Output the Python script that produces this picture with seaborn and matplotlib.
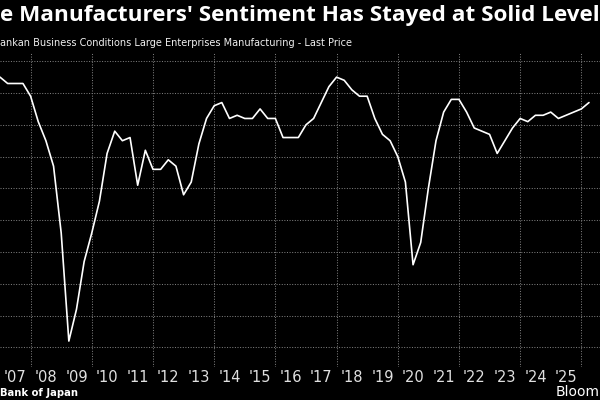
import matplotlib
matplotlib.use("Agg")
import matplotlib.pyplot as plt
import numpy as np
import pandas as pd
import seaborn as sns

# ---- data (Tankan large manufacturers DI, quarterly) ----
start_quarter = "2006Q4"
values = [25,
          23, 23, 23, 19,
          11, 5, -3, -24,
          -58, -48, -33, -24,
          -14, 1, 8, 5,
          6, -9, 2, -4,
          -4, -1, -3, -12,
          -8, 4, 12, 16,
          17, 12, 13, 12,
          12, 15, 12, 12,
          6, 6, 6, 10,
          12, 17, 22, 25,
          24, 21, 19, 19,
          12, 7, 5, 0,
          -8, -34, -27, -10,
          5, 14, 18, 18,
          14, 9, 8, 7,
          1, 5, 9, 12,
          11, 13, 13, 14,
          12, 13, 14, 15,
          17]
year_labels = ["'07", "'08", "'09", "'10", "'11", "'12", "'13", "'14", "'15", "'16",
               "'17", "'18", "'19", "'20", "'21", "'22", "'23", "'24", "'25"]
label_years = list(range(2007, 2026))
y_grid = list(range(-60, 31, 10))

title = "e Manufacturers' Sentiment Has Stayed at Solid Level"
subtitle = "ankan Business Conditions Large Enterprises Manufacturing - Last Price"
source = "Bank of Japan"
brand = "Bloom"

periods = pd.period_range(start_quarter, periods=len(values), freq="Q")
xpos = periods.year + periods.quarter * 0.25  # quarter-end as decimal year
df = pd.DataFrame({"x": xpos, "value": values})

# ---- styling ----
sns.set_style("dark")
plt.rcParams["font.family"] = ["DejaVu Sans"]

W, H = 600, 400
fig = plt.figure(figsize=(6, 4), dpi=100, facecolor="black")

top_px, bot_px = 52, 366.5
ax = fig.add_axes([0, 1 - bot_px / H, 1, (bot_px - top_px) / H])
ax.set_facecolor("black")

sns.lineplot(data=df, x="x", y="value", ax=ax, color="white", linewidth=1.2)

ax.set_xlim(2007.0, 2026.61)
ax.set_ylim(-66.0, 32.9)

# grid
grid_kw = dict(color="#7a7a7a", linestyle=(0, (1, 1.5)), linewidth=0.75)
ax.set_yticks(y_grid)
ax.yaxis.grid(True, **grid_kw)
ax.tick_params(axis="y", length=0, labelleft=False, labelright=False)
for yr in range(2008, 2027, 2):
    ax.axvline(yr, zorder=0, **grid_kw)
ax.xaxis.grid(False)

# x axis: separators as major ticks, labels as minor ticks
ax.set_xticks(list(range(2008, 2027)))
ax.set_xticklabels([""] * len(range(2008, 2027)))
ax.set_xticks([y + 0.5 for y in label_years], minor=True)
ax.set_xticklabels(year_labels, minor=True)
ax.tick_params(axis="x", which="major", direction="out", length=11.5, width=0.8,
               color="#a0a0a0")
ax.tick_params(axis="x", which="minor", length=0, pad=2.5, labelsize=10.5,
               labelcolor="#e0e0e0")
for s in ax.spines.values():
    s.set_visible(False)
ax.set_xlabel("")
ax.set_ylabel("")

# ---- texts ----
renderer = fig.canvas.get_renderer()


def fit(t, width_px):
    fs = t.get_fontsize()
    for _ in range(3):
        w = t.get_window_extent(renderer).width
        fs = fs * width_px / w
        t.set_fontsize(fs)


t1 = fig.text(0.0, 1 - 20.7 / H, title, color="white", fontweight="bold",
              fontsize=15, va="baseline", ha="left", family=["Open Sans", "DejaVu Sans"])
fit(t1, 597)
t2 = fig.text(0.0, 1 - 45.5 / H, subtitle, color="#f0f0f0", fontsize=8,
              va="baseline", ha="left", family=["Liberation Sans Narrow", "DejaVu Sans"])
fit(t2, 352)
t3 = fig.text(0.0, 1 - 395.5 / H, source, color="white", fontweight="bold",
              fontsize=8, va="baseline", ha="left")
fit(t3, 78)
t4 = fig.text(1.0, 1 - 395.5 / H, brand, color="white", fontsize=10,
              va="baseline", ha="right")

fig.savefig("out.png", dpi=100, facecolor="black")
